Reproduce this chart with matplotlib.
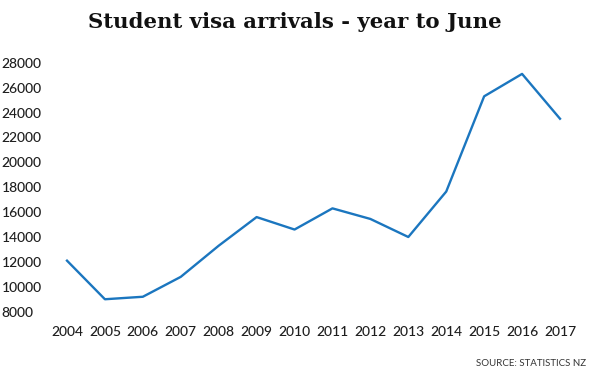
import matplotlib
matplotlib.use("Agg")
import matplotlib.pyplot as plt

# Student visa arrivals, year to June
years = [2004, 2005, 2006, 2007, 2008, 2009, 2010, 2011, 2012, 2013, 2014, 2015, 2016, 2017]
arrivals = [12100, 9000, 9200, 10800, 13300, 15600, 14600, 16300, 15450, 14000, 17650, 25300, 27100, 23500]
yticks = list(range(8000, 28001, 2000))

fig = plt.figure(figsize=(6, 3.72), dpi=100)
ax = fig.add_axes([67/600, 1 - 311.7/372, (560 - 67)/600, (311.7 - 62.7)/372])

ax.plot(years, arrivals, color='#1b76bf', lw=1.7, clip_on=False)

ax.set_xlim(2004, 2017)
ax.set_ylim(8000, 28000)
ax.set_xticks(years)
ax.set_yticks(yticks)
for s in ax.spines.values():
    s.set_visible(False)

ax.tick_params(axis='both', length=0, labelsize=10, labelcolor='#1e1e1e')
ax.tick_params(axis='x', pad=10)
ax.tick_params(axis='y', pad=47)
for lab in ax.get_yticklabels():
    lab.set_horizontalalignment('left')
for lab in ax.get_xticklabels() + ax.get_yticklabels():
    lab.set_fontfamily('Lato')
    lab.set_fontweight('medium')

fig.text(295/600, 1 - 22/372, 'Student visa arrivals - year to June', ha='center', va='center',
         fontsize=15.3, fontweight='bold', family='DejaVu Serif', color='#111111')
fig.text(586/600, 1 - 363/372, 'SOURCE: STATISTICS NZ', ha='right', va='center',
         fontsize=7, family='Lato', color='#333333')

fig.savefig('out.png', dpi=100)
